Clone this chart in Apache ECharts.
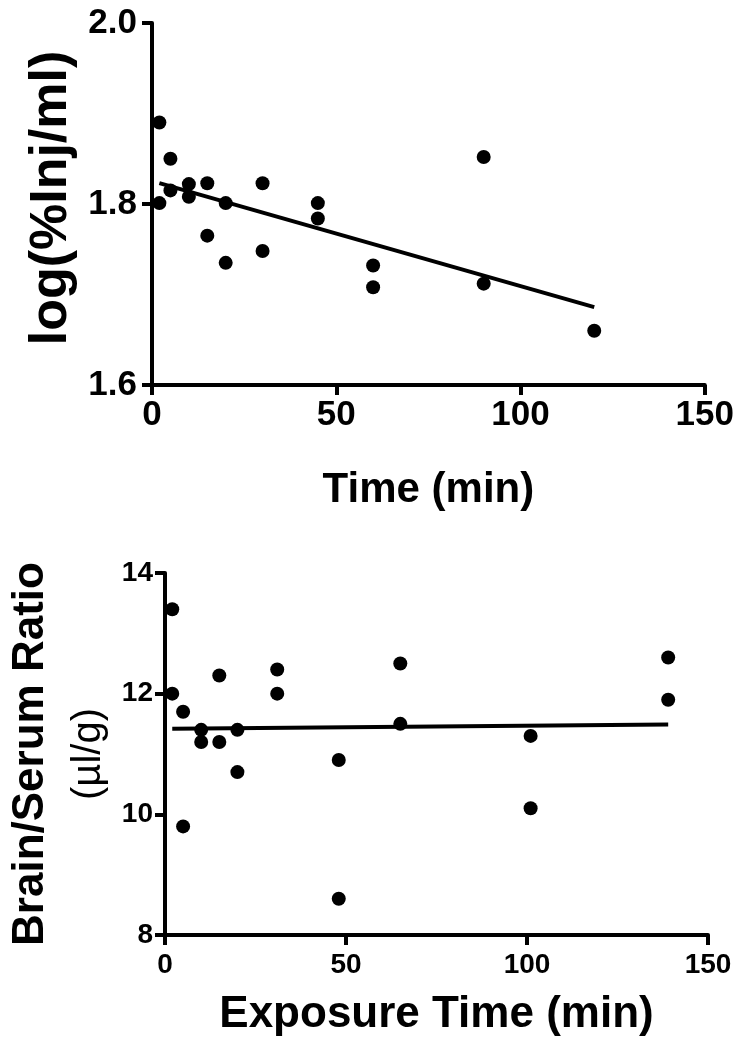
<!DOCTYPE html>
<html>
<head>
<meta charset="utf-8">
<script src="https://cdn.jsdelivr.net/npm/echarts@6/dist/echarts.min.js"></script>
<style>
  html, body { margin: 0; padding: 0; background: #fff; }
  #chart { width: 737px; height: 1050px; }
</style>
</head>
<body>
<div id="chart"></div>
<script>
// ---- Data ----
const topTime = [2, 2, 5, 5, 10, 10, 15, 15, 20, 20, 30, 30, 45, 45, 60, 60, 90, 90, 120];
const topLogInj = [1.890, 1.801, 1.850, 1.815, 1.822, 1.808, 1.823, 1.765, 1.801, 1.735, 1.823, 1.748, 1.801, 1.784, 1.732, 1.708, 1.852, 1.712, 1.660];
const topFitTime = [2, 120];
const topFitLog = [1.823, 1.686];

const botTime = [2, 2, 5, 5, 10, 10, 15, 15, 20, 20, 31, 31, 48, 48, 65, 65, 101, 101, 139, 139];
const botRatio = [13.4, 12.0, 11.7, 9.8, 11.4, 11.2, 12.3, 11.2, 11.4, 10.7, 12.4, 12.0, 10.9, 8.6, 12.5, 11.5, 11.3, 10.1, 12.6, 11.9];
const botFitTime = [2, 139];
const botFitRatio = [11.42, 11.49];

const topYTicks = [1.6, 1.8, 2.0];
const botYTicks = [8, 10, 12, 14];
const xTicks = [0, 50, 100, 150];

const zip = (a, b) => a.map((v, i) => [v, b[i]]);

const FONT = "'Liberation Sans', Arial, sans-serif";

function axisCommon() {
  return {
    axisLine: { show: true, onZero: false, lineStyle: { color: '#000', width: 4 } },
    axisTick: { show: true, inside: false, length: 10, lineStyle: { color: '#000', width: 4 } },
    splitLine: { show: false }
  };
}

const chart = echarts.init(document.getElementById('chart'), null, { renderer: 'canvas' });
chart.setOption({
  backgroundColor: '#fff',
  animation: false,
  grid: [
    { left: 152, right: 29, top: 23, height: 362 },
    { left: 165, right: 29, top: 573, height: 362 }
  ],
  xAxis: [
    Object.assign(axisCommon(), {
      gridIndex: 0, type: 'value', min: xTicks[0], max: xTicks[xTicks.length - 1], interval: 50,
      axisLabel: { color: '#000', fontFamily: FONT, fontWeight: 'bold', fontSize: 35, margin: 13 },
      name: 'Time (min)', nameLocation: 'middle', nameGap: 84,
      nameTextStyle: { color: '#000', fontFamily: FONT, fontWeight: 'bold', fontSize: 42 }
    }),
    Object.assign(axisCommon(), {
      gridIndex: 1, type: 'value', min: xTicks[0], max: xTicks[xTicks.length - 1], interval: 50,
      axisLabel: { color: '#000', fontFamily: FONT, fontWeight: 'bold', fontSize: 28, margin: 16 },
      name: 'Exposure Time (min)', nameLocation: 'middle', nameGap: 58,
      nameTextStyle: { color: '#000', fontFamily: FONT, fontWeight: 'bold', fontSize: 44 }
    })
  ],
  yAxis: [
    Object.assign(axisCommon(), {
      gridIndex: 0, type: 'value', min: topYTicks[0], max: topYTicks[topYTicks.length - 1], interval: 0.2,
      axisLabel: { color: '#000', fontFamily: FONT, fontWeight: 'bold', fontSize: 35, margin: 15,
        formatter: v => v.toFixed(1) },
      name: 'log(%Inj/ml)', nameLocation: 'middle', nameGap: 70,
      nameTextStyle: { color: '#000', fontFamily: FONT, fontWeight: 'bold', fontSize: 52,
        padding: [0, 0, 0, 12] }
    }),
    Object.assign(axisCommon(), {
      gridIndex: 1, type: 'value', min: botYTicks[0], max: botYTicks[botYTicks.length - 1], interval: 2,
      axisLabel: { color: '#000', fontFamily: FONT, fontWeight: 'bold', fontSize: 28, margin: 12 },
      name: '{a|Brain/Serum Ratio}\n{b|(µl/g)}', nameLocation: 'middle', nameGap: 48,
      nameTextStyle: {
        color: '#000', fontFamily: FONT,
        rich: {
          a: { fontFamily: FONT, fontWeight: 'bold', fontSize: 44, color: '#000', lineHeight: 60 },
          b: { fontFamily: FONT, fontWeight: 'normal', fontSize: 40, color: '#000', lineHeight: 56 }
        }
      }
    })
  ],
  series: [
    { type: 'line', xAxisIndex: 0, yAxisIndex: 0, data: zip(topFitTime, topFitLog), symbol: 'none',
      lineStyle: { color: '#000', width: 4 }, silent: true },
    { type: 'scatter', xAxisIndex: 0, yAxisIndex: 0, data: zip(topTime, topLogInj), symbol: 'circle',
      symbolSize: 14, itemStyle: { color: '#000', opacity: 1 } },
    { type: 'line', xAxisIndex: 1, yAxisIndex: 1, data: zip(botFitTime, botFitRatio), symbol: 'none',
      lineStyle: { color: '#000', width: 4 }, silent: true },
    { type: 'scatter', xAxisIndex: 1, yAxisIndex: 1, data: zip(botTime, botRatio), symbol: 'circle',
      symbolSize: 14, itemStyle: { color: '#000', opacity: 1 } }
  ]
});
</script>
</body>
</html>
